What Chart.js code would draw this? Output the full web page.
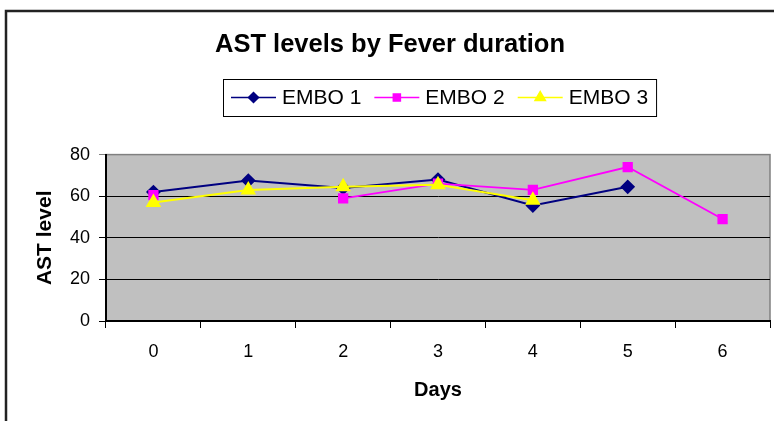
<!DOCTYPE html>
<html>
<head>
<meta charset="utf-8">
<script src="https://cdn.jsdelivr.net/npm/chart.js"></script>
<style>
  html, body { margin: 0; padding: 0; background: #fff; }
</style>
</head>
<body>
<canvas id="astChart" width="774" height="421"></canvas>
<script>
// AST levels chart
const days = ['0', '1', '2', '3', '4', '5', '6'];
const embo1 = [62, 67.5, 64, 68, 55.5, 64.5, null];
const embo2 = [60.5, null, 59, 66, 63, 74, 49];
const embo3 = [57, 63, 64.5, 65.5, 58, null, null];
const seriesNames = ['EMBO 1', 'EMBO 2', 'EMBO 3'];

const FONT = '"Liberation Sans", Arial, sans-serif';

// plot background, outer frame and the boxed legend
const excelLook = {
    id: 'excelLook',
    beforeDraw(chart) {
        const { ctx, chartArea: a } = chart;
        ctx.save();
        ctx.fillStyle = '#c0c0c0';
        ctx.fillRect(a.left, a.top, a.right - a.left, a.bottom - a.top);
        ctx.strokeStyle = '#808080';
        ctx.lineWidth = 1.5;
        ctx.strokeRect(a.left, a.top, a.right - a.left, a.bottom - a.top);
        ctx.strokeStyle = '#222';
        ctx.lineWidth = 2.5;
        ctx.beginPath();
        ctx.moveTo(chart.width, 11);
        ctx.lineTo(6, 11);
        ctx.lineTo(6, chart.height);
        ctx.stroke();
        ctx.restore();
    },
    afterDraw(chart) {
        const ctx = chart.ctx;
        const sets = chart.data.datasets;
        ctx.save();
        ctx.font = '21px ' + FONT;
        const seg = 45, gap = 6, itemGap = 13, padX = 8;
        const widths = sets.map(d => ctx.measureText(d.label).width);
        let total = padX * 2 + itemGap * (sets.length - 1);
        widths.forEach(w => { total += seg + gap + w; });
        const left = 223, top = 79, h = 37;
        ctx.fillStyle = '#fff';
        ctx.fillRect(left, top, total, h);
        ctx.strokeStyle = '#000';
        ctx.lineWidth = 1;
        ctx.strokeRect(left + 0.5, top + 0.5, total, h);
        let x = left + padX;
        const cy = top + h / 2;
        sets.forEach((d, i) => {
            ctx.strokeStyle = d.borderColor;
            ctx.lineWidth = 1.5;
            ctx.beginPath();
            ctx.moveTo(x, cy);
            ctx.lineTo(x + seg, cy);
            ctx.stroke();
            ctx.fillStyle = d.pointBackgroundColor;
            ctx.strokeStyle = d.pointBorderColor;
            Chart.helpers.drawPoint(ctx, {
                pointStyle: d.pointStyle, radius: d.pointRadius - 1, rotation: 0, borderWidth: 1
            }, x + seg / 2, cy);
            ctx.fillStyle = '#000';
            ctx.textBaseline = 'middle';
            ctx.textAlign = 'left';
            ctx.fillText(d.label, x + seg + gap, cy + 1);
            x += seg + gap + widths[i] + itemGap;
        });
        ctx.restore();
    }
};

const ctx = document.getElementById('astChart').getContext('2d');
new Chart(ctx, {
    type: 'line',
    data: {
        labels: days,
        datasets: [{
            label: seriesNames[0],
            data: embo1,
            borderColor: '#000080',
            borderWidth: 2,
            pointStyle: 'rectRot',
            pointRadius: 6,
            pointBackgroundColor: '#000080',
            pointBorderColor: '#000080',
            order: 2
        },
        {
            label: seriesNames[1],
            data: embo2,
            borderColor: '#ff00ff',
            borderWidth: 1.8,
            pointStyle: 'rect',
            pointRadius: 6,
            pointBackgroundColor: '#ff00ff',
            pointBorderColor: '#ff00ff',
            order: 1
        },
        {
            label: seriesNames[2],
            data: embo3,
            borderColor: '#ffff00',
            borderWidth: 2,
            pointStyle: 'triangle',
            pointRadius: 7,
            pointBackgroundColor: '#ffff00',
            pointBorderColor: '#ffff00',
            order: 0
        }]
    },
    options: {
        responsive: false,
        animation: false,
        spanGaps: false,
        layout: { autoPadding: false, padding: { left: 10, right: 4, bottom: 0, top: 0 } },
        plugins: {
            legend: { display: false },
            tooltip: { enabled: false },
            title: {
                display: true,
                text: 'AST levels by Fever duration',
                color: '#000',
                font: { family: FONT, size: 25.5, weight: 'bold' },
                padding: { top: 30, bottom: 94 }
            }
        },
        scales: {
            x: {
                offset: true,
                grid: {
                    offset: true,
                    drawOnChartArea: false,
                    color: '#000',
                    tickLength: 7
                },
                border: { color: '#000', width: 2 },
                ticks: {
                    color: '#000',
                    padding: 13,
                    font: { family: FONT, size: 18 }
                },
                title: {
                    display: true,
                    text: 'Days',
                    color: '#000',
                    font: { family: FONT, size: 20, weight: 'bold' },
                    padding: { top: 4, bottom: 19 }
                },
                afterFit(scale) {
                    scale.height = 100;
                    scale.paddingLeft = 0;
                    scale.paddingRight = 0;
                }
            },
            y: {
                min: 0,
                max: 80,
                ticks: {
                    stepSize: 20,
                    color: '#000',
                    padding: 9,
                    font: { family: FONT, size: 18 }
                },
                grid: {
                    color: c => (c.tick && c.tick.value === 80) ? '#808080' : '#000',
                    tickLength: 7
                },
                border: { color: '#000', width: 2 },
                title: {
                    display: true,
                    text: 'AST level',
                    color: '#000',
                    font: { family: FONT, size: 21, weight: 'bold' },
                    padding: { top: 23, bottom: 4 }
                },
                afterFit(scale) { scale.width = 96; }
            }
        }
    },
    plugins: [excelLook]
});
</script>
</body>
</html>
